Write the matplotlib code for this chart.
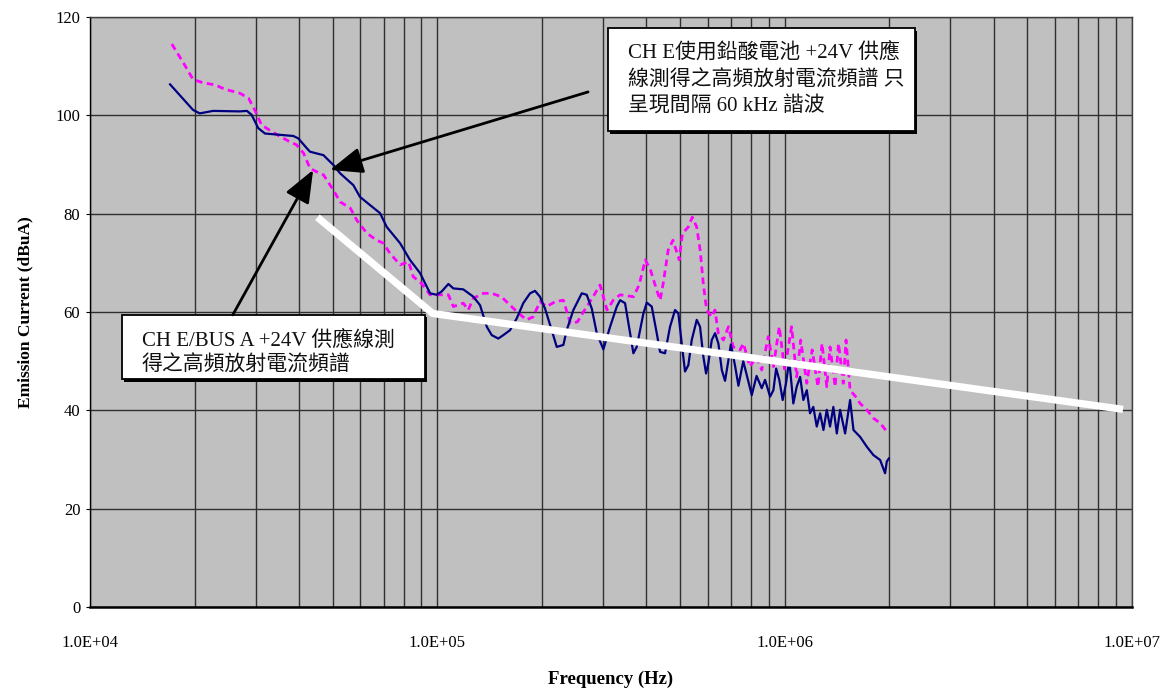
import matplotlib
matplotlib.use("Agg")
import matplotlib.pyplot as plt
from matplotlib.patches import Rectangle
from matplotlib.ticker import FixedLocator, LogLocator, NullFormatter
import numpy as np

plt.rcParams['font.family'] = ['Liberation Serif', 'Noto Sans CJK TC', 'DejaVu Sans']

# ---------------- data ----------------
# CH E / BUS A +24V (navy, solid) : frequency in kHz, level in dBuA
navy_khz = [17.0, 19.8, 20.7, 22.6, 27.0, 28.3, 29.2, 30.5, 31.9, 38.5, 39.8, 42.1, 43.0,
            47.0, 50.2, 52.5, 57.3, 59.9, 68.4, 71.5, 78.1, 83.4, 89.2, 95.3, 99.6, 103.0,
            107.6, 111.2, 118.8, 127.0, 132.7, 138.8, 143.4, 149.8, 154.9, 161.9, 169.3,
            176.8, 184.9, 191.1, 197.5, 204.2, 213.5, 220.7, 230.6, 235.8, 246.4, 260.5,
            269.2, 278.4, 287.7, 300.6, 314.3, 328.6, 335.9, 347.1, 358.9, 366.8, 375.0,
            392.0, 400.9, 414.3, 428.2, 437.7, 452.4, 467.7, 483.5, 494.3, 505.4, 516.6,
            528.1, 540.1, 558.3, 570.6, 583.4, 593.8, 603.0, 616.7, 630.5, 644.4, 659.2,
            673.5, 688.7, 700.0, 720.0, 736.0, 760.0, 804.0, 830.0, 859.0, 878.0, 908.0,
            928.0, 945.0, 965.0, 987.0, 1009.0, 1031.0, 1059.0, 1083.0, 1108.0, 1132.0,
            1158.0, 1183.0, 1209.0, 1237.0, 1265.0, 1293.0, 1322.0, 1351.0, 1381.0, 1413.0,
            1444.0, 1493.0, 1543.0, 1578.0, 1649.0, 1724.0, 1801.0, 1883.0, 1946.0, 1968.0,
            1995.0]
navy_db = [106.3, 101.1, 100.4, 100.9, 100.8, 100.9, 100.1, 97.4, 96.3, 95.8, 95.3, 93.3, 92.6,
           91.9, 89.9, 88.2, 85.8, 83.4, 80.1, 77.3, 74.0, 70.6, 67.9, 63.8, 63.5, 64.2,
           65.7, 64.8, 64.6, 63.1, 61.4, 57.0, 55.3, 54.6, 55.3, 56.3, 58.7,
           61.8, 63.8, 64.3, 63.1, 60.7, 56.3, 52.9, 53.3, 56.3, 60.4, 63.8,
           63.5, 60.7, 55.7, 52.4, 57.0, 61.1, 62.4, 61.8, 55.7, 51.6, 52.9,
           59.7, 61.9, 61.1, 55.7, 51.9, 51.6, 57.0, 60.4, 59.7, 53.6, 47.9,
           49.2, 54.3, 58.4, 57.0, 50.9, 47.5, 49.6, 54.3, 55.7, 53.6, 48.2,
           46.0, 50.2, 53.4, 49.0, 45.0, 50.0, 43.1, 47.0, 44.5, 46.2, 42.8,
           44.1, 48.5, 46.2, 42.1, 45.5, 50.2, 41.4, 44.8, 46.8, 42.1,
           44.1, 39.4, 40.7, 36.7, 39.4, 36.0, 40.1, 36.7, 40.7, 35.3,
           40.1, 35.3, 42.1, 36.0, 34.6, 32.6, 30.9, 29.9, 27.2, 29.6,
           30.2]

# CH E lead-acid battery +24V (magenta, dashed)
mag_khz = [17.2, 18.6, 19.8, 21.2, 22.9, 24.5, 27.0, 28.6, 29.9, 31.2, 34.1, 37.2, 39.3, 41.2,
           43.0, 45.0, 47.0, 50.2, 52.5, 56.2, 58.6, 62.7, 66.9, 69.9, 73.1, 78.1, 82.7, 85.2,
           90.1, 95.3, 101.8, 107.6, 111.2, 118.8, 122.7, 127.0, 135.8, 143.4, 152.9, 161.9,
           169.3, 180.5, 188.6, 197.5, 206.3, 218.4, 230.6, 241.6, 253.2, 269.2, 280.9, 294.0,
           300.6, 308.0, 321.0, 336.0, 367.0, 381.0, 397.0, 411.0, 428.0, 438.0, 447.0, 462.0,
           477.0, 497.0, 508.0, 528.0, 542.0, 558.0, 571.0, 583.0, 596.0, 617.0, 630.0, 644.0,
           666.0, 689.0, 711.0, 744.0, 761.0, 794.0, 830.0, 859.0, 897.0, 928.0, 965.0, 1000.0,
           1047.0, 1083.0, 1112.0, 1158.0, 1200.0, 1247.0, 1281.0, 1322.0, 1351.0, 1397.0,
           1429.0, 1475.0, 1502.0, 1543.0, 1600.0, 1649.0, 1724.0, 1801.0, 1883.0, 1968.0,
           1995.0]
mag_db = [114.5, 110.6, 107.3, 106.6, 106.2, 105.3, 104.5, 103.5, 100.9, 98.0, 96.3, 94.8, 94.0, 92.3,
          89.2, 88.5, 87.9, 84.8, 82.4, 81.1, 78.7, 76.0, 74.6, 74.0, 71.9, 69.6, 70.2, 67.2,
          65.8, 63.5, 63.5, 63.5, 61.1, 61.8, 60.4, 62.8, 63.8, 63.8, 63.1, 61.4,
          60.1, 58.4, 59.0, 62.1, 61.1, 62.1, 62.4, 57.7, 58.0, 61.1, 63.1, 65.5,
          63.1, 60.4, 62.4, 63.5, 63.1, 65.5, 70.6, 68.5, 64.5, 62.4, 65.8, 72.6,
          74.6, 70.6, 76.0, 77.3, 79.3, 77.3, 72.6, 65.8, 60.4, 59.0, 60.4, 55.7,
          54.3, 57.0, 52.9, 52.3, 53.6, 48.9, 50.9, 48.2, 55.0, 48.9, 57.0, 48.2,
          57.0, 46.8, 54.3, 45.5, 52.3, 44.8, 53.6, 44.8, 52.9, 44.8,
          53.6, 45.5, 54.3, 44.1, 42.8, 41.4, 40.1, 38.4, 37.4, 35.7,
          35.3]

# limit line (white)
limit_khz = [46.0, 97.0, 9200.0]
limit_db = [78.8, 59.7, 40.3]

x_ticks = [1e4, 1e5, 1e6, 1e7]
x_tick_labels = ["1.0E+04", "1.0E+05", "1.0E+06", "1.0E+07"]
y_ticks = [0, 20, 40, 60, 80, 100, 120]

box1_lines = ["CH E使用鉛酸電池 +24V 供應", "線測得之高頻放射電流頻譜 只", "呈現間隔 60 kHz 諧波"]
box2_lines = ["CH E/BUS A +24V 供應線測", "得之高頻放射電流頻譜"]

# ---------------- figure ----------------
fig = plt.figure(figsize=(11.63, 6.91), dpi=100)
ax = fig.add_axes([90/1163, (691-607)/691, (1132-90)/1163, (607-17)/691])
ax.set_facecolor('#C0C0C0')
ax.set_xscale('log')
ax.set_xlim(1e4, 1e7)
ax.set_ylim(0, 120)

# grid
ax.xaxis.set_major_locator(FixedLocator(x_ticks))
ax.xaxis.set_minor_locator(LogLocator(base=10, subs=np.arange(2, 10)))
ax.xaxis.set_minor_formatter(NullFormatter())
ax.set_xticklabels(x_tick_labels)
ax.set_yticks(y_ticks)
ax.grid(True, which='major', axis='both', color='#303030', lw=1.0)
ax.grid(True, which='minor', axis='x', color='#303030', lw=1.0)
ax.set_axisbelow(True)

ax.tick_params(axis='x', which='both', length=0, pad=20, labelsize=12)
ax.tick_params(axis='y', which='both', length=3, pad=4, labelsize=12)
for s in ax.spines.values():
    s.set_color('#404040')
    s.set_linewidth(1.0)
ax.spines['bottom'].set_color('black')
ax.spines['bottom'].set_linewidth(1.8)
ax.spines['left'].set_color('black')

fk = lambda v: np.array(v) * 1e3
ax.plot(fk(mag_khz), mag_db, color='#FF00FF', lw=2.0, ls=(0, (2.4, 1.6)), zorder=3)
ax.plot(fk(navy_khz), navy_db, color='#000080', lw=1.6, zorder=4,
        solid_joinstyle='round')
ax.plot(fk(limit_khz), limit_db, color='white', lw=5.2, solid_joinstyle='miter', zorder=5)

ax.set_xlabel("Frequency (Hz)", fontsize=13.5, fontweight='bold', labelpad=14)
ax.set_ylabel("Emission Current (dBuA)", fontsize=12.5, fontweight='bold', labelpad=16)

# annotation boxes
def draw_box(x0, y0, x1, y1, lines, tx, ty_list):
    ax.add_patch(Rectangle((x0 + 0.002, y0 - 0.004), x1 - x0, y1 - y0, transform=ax.transAxes,
                           facecolor='black', edgecolor='none', zorder=6, clip_on=False))
    ax.add_patch(Rectangle((x0, y0), x1 - x0, y1 - y0, transform=ax.transAxes,
                           facecolor='white', edgecolor='black', lw=1.3, zorder=7, clip_on=False))
    for line, ty in zip(lines, ty_list):
        ax.text(tx, ty, line, transform=ax.transAxes, fontsize=15, va='center', ha='left',
                color='#111111', zorder=8)

draw_box(0.497, 0.806, 0.792, 0.981, box1_lines, 0.516, [0.940, 0.893, 0.849])
draw_box(0.0304, 0.386, 0.3215, 0.495, box2_lines, 0.0496, [0.452, 0.409])

arrow_style = dict(arrowstyle='-|>,head_length=2.0,head_width=0.8', color='black', lw=2.0,
                   shrinkA=0, shrinkB=0)
ax.annotate("", xy=(49.1e3, 88.9), xycoords='data', xytext=(0.478, 0.873),
            textcoords='axes fraction', arrowprops=arrow_style, zorder=9)
ax.annotate("", xy=(43.9e3, 88.9), xycoords='data', xytext=(0.137, 0.495),
            textcoords='axes fraction', arrowprops=arrow_style, zorder=9)

fig.savefig("out.png", dpi=100, facecolor='white')
